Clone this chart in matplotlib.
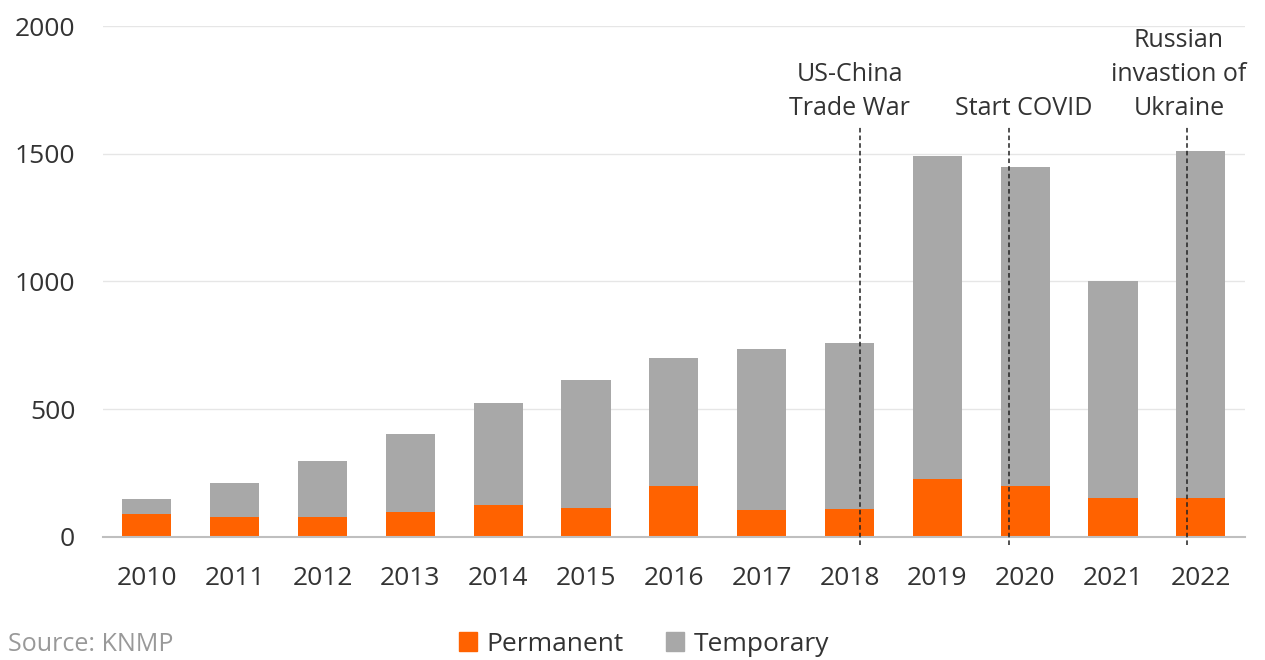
import matplotlib

matplotlib.use("Agg")
import matplotlib.pyplot as plt
from matplotlib.patches import Patch

plt.rcParams["font.family"] = ["Open Sans", "DejaVu Sans"]

YEARS = ["2010", "2011", "2012", "2013", "2014", "2015", "2016",
         "2017", "2018", "2019", "2020", "2021", "2022"]
PERMANENT = [89, 80, 77, 97, 124, 115, 200, 106, 110, 227, 200, 153, 153]
TOTAL = [149, 213, 296, 405, 524, 614, 700, 736, 759, 1491, 1448, 1002, 1511]
TEMPORARY = [t - p for t, p in zip(TOTAL, PERMANENT)]

EVENT_LABELS = ["US-China\nTrade War", "Start COVID", "Russian\ninvastion of\nUkraine"]
EVENT_X = [8.12, 9.82, 11.84]
EVENT_TEXT_X = [8.0, 9.98, 11.75]

ORANGE = "#FF6200"
GREY = "#A8A8A8"
TEXT = "#333333"

fig = plt.figure(figsize=(12.65, 6.6), dpi=100)
ax = fig.add_axes([0.0814, 0.1864, 0.9026, 0.7742])

x = list(range(len(YEARS)))
ax.bar(x, PERMANENT, width=0.56, color=ORANGE, zorder=3)
ax.bar(x, TEMPORARY, bottom=PERMANENT, width=0.56, color=GREY, zorder=3)

ax.set_xlim(-0.5, 12.5)
ax.set_ylim(0, 2000)
ax.set_yticks([0, 500, 1000, 1500, 2000])
ax.set_xticks(x)
ax.set_xticklabels(YEARS)
ax.tick_params(axis="both", length=0, labelsize=19, colors=TEXT)
ax.tick_params(axis="x", pad=21)
ax.tick_params(axis="y", pad=20)
ax.grid(axis="y", color="#E6E6E6", linewidth=1, zorder=0)
for side in ("top", "right", "left"):
    ax.spines[side].set_visible(False)
ax.spines["bottom"].set_color("#BFBFBF")
ax.spines["bottom"].set_linewidth(1.5)
ax.spines["bottom"].set_zorder(4)

for lx, tx, label in zip(EVENT_X, EVENT_TEXT_X, EVENT_LABELS):
    ax.plot([lx, lx], [-30, 1610], color="#222222", linestyle=(0, (3, 2)),
            linewidth=1.1, zorder=5, clip_on=False)
    ax.text(tx, 1630, label, ha="center", va="bottom", fontsize=18,
            color=TEXT, linespacing=1.45)

handles = [Patch(color=ORANGE, label="Permanent"), Patch(color=GREY, label="Temporary")]
fig.legend(handles=handles, loc="center", bbox_to_anchor=(0.509, 0.024), ncol=2,
           frameon=False, fontsize=19, handlelength=0.7, handleheight=0.7,
           handletextpad=0.35, columnspacing=1.6, labelcolor=TEXT)

fig.text(0.006, 0.004, "Source: KNMP", fontsize=18, color="#999999", va="bottom")

fig.savefig("out.png", dpi=100, facecolor="white")
